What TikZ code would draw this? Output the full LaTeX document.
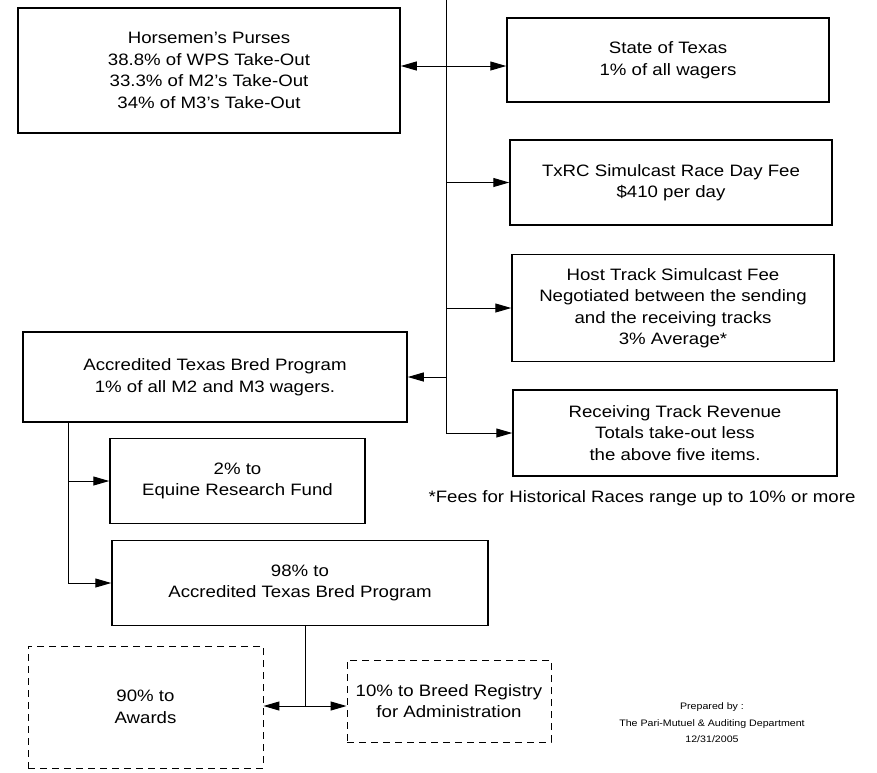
\documentclass[tikz,border=0pt]{standalone}
\usepackage{fontspec}
\setmainfont[FakeStretch=1.13]{Liberation Sans}
\usetikzlibrary{arrows.meta}
\newcommand{\bxfont}{\fontsize{16.5}{21.5}\selectfont}
\newcommand{\smfnt}{\fontsize{9.4}{16.5}\selectfont}
\begin{document}
\begin{tikzpicture}[x=1pt,y=-1pt,
  box/.style={draw, line width=1.5pt, align=center, inner sep=0pt, font=\bxfont},
  dbox/.style={draw, line width=0.9pt, dash pattern=on 7pt off 5pt, align=center, inner sep=0pt, font=\bxfont},
  conn/.style={line width=1pt},
  arr/.style={conn, -{Triangle[length=16pt,width=9pt]}},
]
\useasboundingbox[fill=white] (0,0) rectangle (877,772);

\node[box, minimum width=382, minimum height=125] (hp) at (209,70.5)
  {Horsemen's Purses\\38.8\% of WPS Take-Out\\33.3\% of M2's Take-Out\\34\% of M3's Take-Out};
\node[box, minimum width=322, minimum height=84] (st) at (668,60)
  {State of Texas\\1\% of all wagers};
\node[box, minimum width=322, minimum height=85] (tx) at (671,182.5)
  {TxRC Simulcast Race Day Fee\\\$410 per day};
\node[box, minimum width=322, minimum height=107] (ht) at (673,308)
  {Host Track Simulcast Fee\\Negotiated between the sending\\and the receiving tracks\\3\% Average*};
\node[box, minimum width=324, minimum height=86] (rec) at (675,433)
  {Receiving Track Revenue\\Totals take-out less\\the above five items.};
\node[box, minimum width=384, minimum height=90] (acc) at (215,377)
  {Accredited Texas Bred Program\\1\% of all M2 and M3 wagers.};
\node[box, minimum width=255, minimum height=85] (eq) at (237.5,481)
  {2\% to\\Equine Research Fund};
\node[box, minimum width=376, minimum height=85] (n98) at (300,583)
  {98\% to\\Accredited Texas Bred Program};
\node[dbox, minimum width=235, minimum height=122] (aw) at (145.5,707)
  {90\% to\\Awards};
\node[dbox, minimum width=204, minimum height=82] (br) at (449,701)
  {10\% to Breed Registry\\for Administration};

\node[font=\bxfont, inner sep=0pt] (fees) at (642,498)
  {*Fees for Historical Races range up to 10\% or more};
\node[font=\smfnt, align=center, inner sep=0pt] (prep) at (712,723)
  {Prepared by :\\The Pari-Mutuel \& Auditing Department\\12/31/2005};

% trunk
\coordinate (ttop) at (446,0);
\coordinate (c66) at (446,66);
\draw[arr] (ttop) -- (ttop |- rec.west) -- (rec.west);
\draw[arr] (c66) -- (c66 -| hp.east);
\draw[arr] (c66) -- (c66 -| st.west);
\draw[arr] (ttop |- tx.west) -- (tx.west);
\draw[arr] (ttop |- ht.west) -- (ht.west);
\draw[arr] (ttop |- acc.east) -- (acc.east);

% left branch
\coordinate (lx) at (68,0);
\draw[arr] (lx |- acc.south) -- (lx |- n98.west) -- (n98.west);
\draw[arr] (lx |- eq.west) -- (eq.west);

% bottom branch
\coordinate (bj) at (305,706);
\draw[conn] (bj |- n98.south) -- (bj);
\draw[arr] (bj) -- (bj -| aw.east);
\draw[arr] (bj) -- (bj -| br.west);
\end{tikzpicture}
\end{document}
